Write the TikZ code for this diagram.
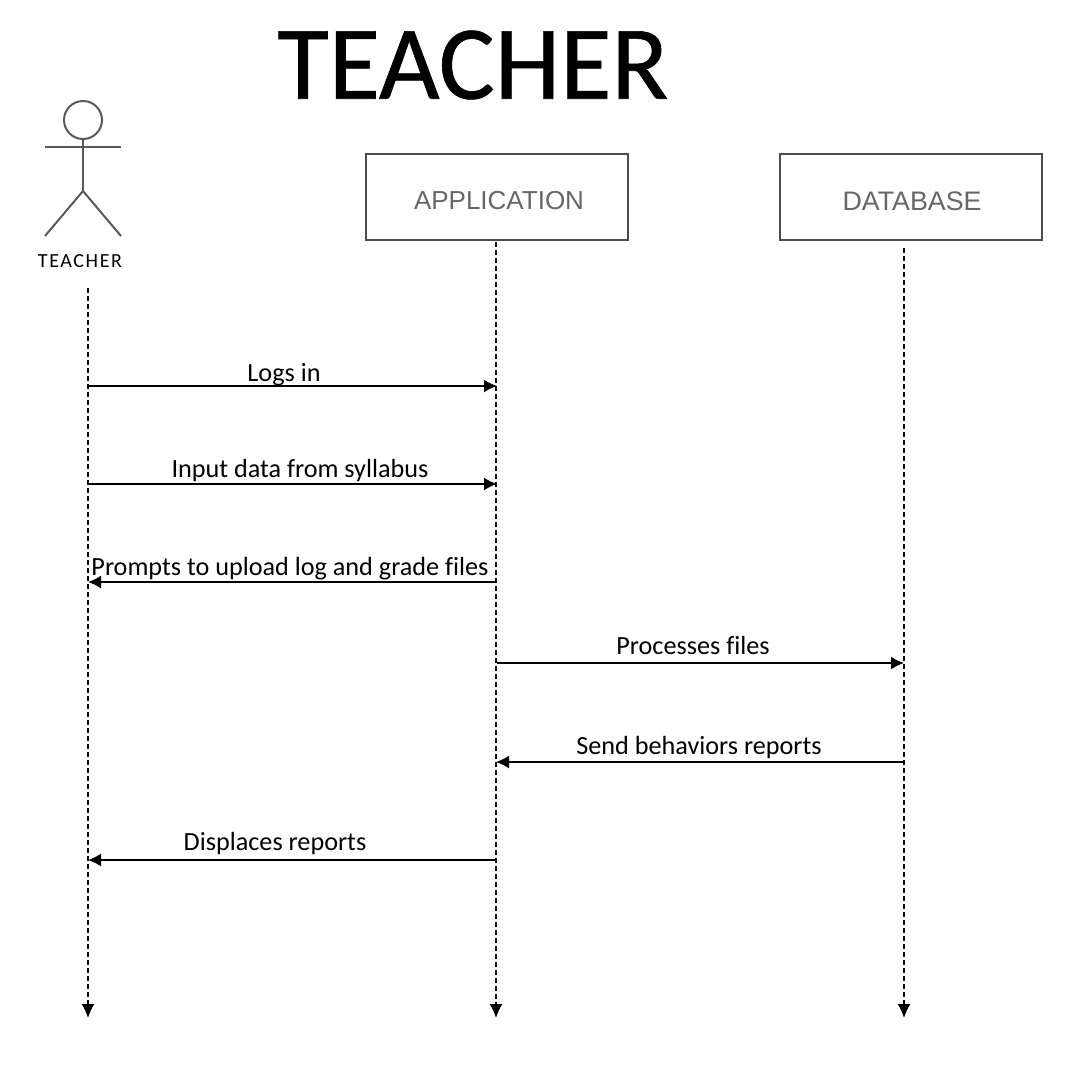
\documentclass[tikz,border=0pt]{standalone}
\usepackage{fontspec}
\setmainfont[Ligatures=NoCommon]{Carlito}
\setsansfont{Liberation Sans}
\newfontfamily\titlefont[FakeBold=0.6]{Carlito}
\newfontfamily\actorfont[LetterSpace=8]{Carlito}
\usepackage{tikz}
\usetikzlibrary{arrows.meta}

\begin{document}
\begin{tikzpicture}[
                x=1pt, y=-1pt,
                every node/.style={inner sep=0pt, font=\fontsize{26.2}{30}\selectfont}, % Message labels
                lifebox/.style={draw=black!70, line width=2pt, minimum width=262, minimum height=86},
                boxname/.style={text=black!60, font=\fontsize{26}{30}\sffamily},
                lifeline/.style={dash pattern=on 5pt off 3pt, line width=1.5pt, -{Latex[length=14pt, width=13pt]}},
                msg/.style={line width=1.5pt, -{Latex[length=13pt, width=13pt]}},
                stick/.style={draw=black!65, line width=2pt}
                ]
                \useasboundingbox (0,0) rectangle (1076,1066);

                % Title and boxes
                \node (title) at (473,65) {\fontsize{105}{110}\titlefont TEACHER};
                \node[lifebox] (app) at (497,197) {};
                \node[lifebox] (db) at (911,197) {};
                \node[boxname] (appname) at (499,201) {APPLICATION};
                \node[boxname, font=\fontsize{26.8}{30}\sffamily] (dbname) at (912,201) {DATABASE};

                % Actor
                \node[circle, stick, minimum size=38] (head) at (83,120) {};
                \coordinate (hip) at (83,191);
                \coordinate (armL) at (45,147);
                \coordinate (armR) at (121,147);
                \coordinate (footL) at (45,236);
                \coordinate (footR) at (121,236);
                \draw[stick] (head.south) -- (hip);
                \draw[stick] (armL) -- (armR);
                \draw[stick] (footL) -- (hip) -- (footR);
                \node (actor) at (80,261) {\fontsize{20}{22}\actorfont TEACHER};

                % Lifelines
                \coordinate (t0) at (88,288);
                \coordinate (t1) at (88,1018);
                \coordinate (a0) at (496,242);
                \coordinate (a1) at (496,1018);
                \coordinate (d0) at (904,248);
                \coordinate (d1) at (904,1018);
                \draw[lifeline] (t0) -- (t1);
                \draw[lifeline] (a0) -- (a1);
                \draw[lifeline] (d0) -- (d1);

                % Messages
                \foreach \from/\to/\y/\lx/\by/\txt [count=\i] in {
                    88/497/386/284/381/Logs in,
                    88/497/484/300/477/Input data from syllabus,
                    497/88/582/290/575/Prompts to upload log and grade files,
                    497/904/663/693/654/Processes files,
                    904/496/762/699/754/Send behaviors reports,
                    497/88/860/275/850/Displaces reports}
                {
                    \coordinate (from\i) at (\from,\y);
                    \coordinate (to\i) at (\to,\y);
                    \draw[msg] (from\i) -- (to\i);
                    \node[anchor=base] (msg\i) at (\lx,\by) {\txt};
                }
            \end{tikzpicture}
\end{document}
